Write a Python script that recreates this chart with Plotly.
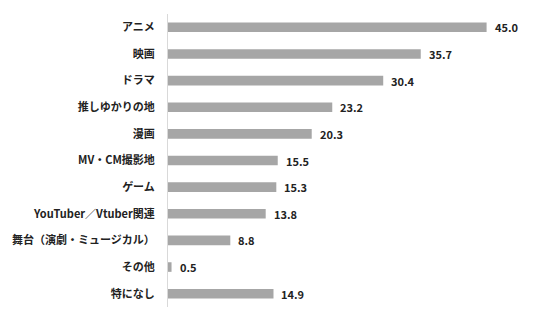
import plotly.graph_objects as go

categories = ["アニメ", "映画", "ドラマ", "推しゆかりの地", "漫画", "MV・CM撮影地", "ゲーム",
              "YouTuber／Vtuber関連", "舞台（演劇・ミュージカル）", "その他", "特になし"]
values = [45.0, 35.7, 30.4, 23.2, 20.3, 15.5, 15.3, 13.8, 8.8, 0.5, 14.9]
labels = [f"{v:.1f}" for v in values]

FONT = "Noto Sans CJK JP"
fig = go.Figure()
fig.add_trace(go.Bar(
    x=values, y=categories, orientation="h",
    marker=dict(color="#a6a6a6", line=dict(width=0)),
    width=0.36, hoverinfo="skip",
))
for c, v, t in zip(categories, values, labels):
    fig.add_annotation(x=v, y=c, text=t, showarrow=False, xanchor="left", xshift=6,
                       font=dict(family=FONT, size=11, color="#222222", weight="bold"))

fig.update_layout(
    width=536, height=321,
    margin=dict(l=166, r=14, t=14, b=14),
    paper_bgcolor="white", plot_bgcolor="white",
    showlegend=False,
    font=dict(family=FONT, size=11, color="#222222"),
    xaxis=dict(range=[0, 50], visible=False, showgrid=False, zeroline=False),
    yaxis=dict(autorange="reversed", showline=True, linecolor="#d9d9d9", linewidth=1,
               showgrid=False, zeroline=False, ticks="", ticklabelstandoff=10,
               tickfont=dict(family=FONT, size=11, color="#222222", weight="bold")),
)
fig.write_html("out.html")
